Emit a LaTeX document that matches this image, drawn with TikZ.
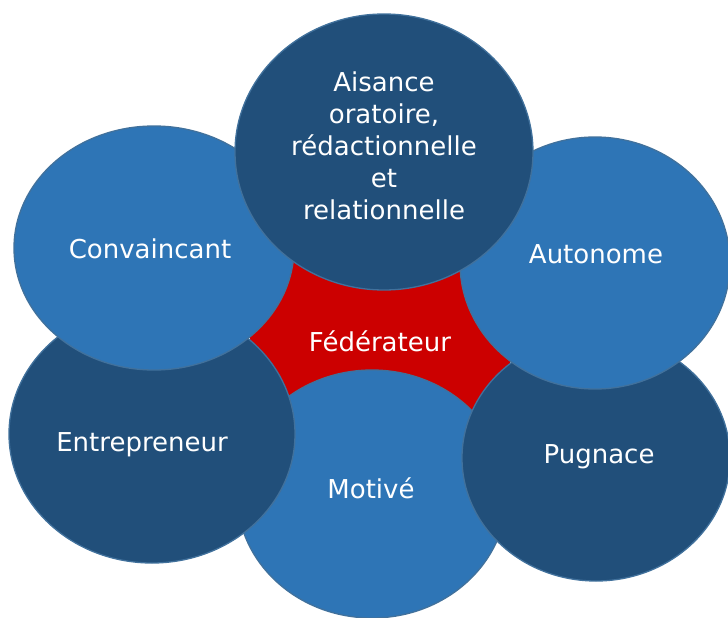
\documentclass[tikz,border=0pt]{standalone}
\usepackage{fontspec}
\setmainfont{DejaVu Sans}
\usetikzlibrary{shapes.geometric}
\definecolor{bleufonce}{RGB}{33,79,122}
\definecolor{bleuclair}{RGB}{46,117,182}
\definecolor{rougecentre}{RGB}{204,0,0}
\definecolor{contour}{RGB}{65,113,156}
\begin{document}
\begin{tikzpicture}[x=1pt, y=-1pt,
    bulle/.style={ellipse, draw=contour, line width=1.3pt, inner sep=0pt},
    fonce/.style={bulle, fill=bleufonce},
    clair/.style={bulle, fill=bleuclair},
    texte/.style={text=white, align=center, inner sep=0pt, font=\fontsize{26}{32}\selectfont}]
  \useasboundingbox (0,0) rectangle (728,618);
  % centre rouge
  \node[circle, fill=rougecentre, minimum size=262pt] (centre) at (381,340) {};
  \node[texte] (fed) at (380,341) {Fédérateur};
  % bulles, de l'arrière vers l'avant
  \node[clair, minimum width=270pt, minimum height=248pt] (moti) at (372,494) {};
  \node[texte] (tmoti) at (371,488) {Motivé};
  \node[fonce, minimum width=286pt, minimum height=258pt] (entr) at (152,434) {};
  \node[texte] (tentr) at (142,445) {Entrepreneur};
  \node[fonce, minimum width=268pt, minimum height=246pt] (pugn) at (596,458) {};
  \node[texte] (tpugn) at (599,457) {Pugnace};
  \node[clair, minimum width=280pt, minimum height=244pt] (conv) at (154,248) {};
  \node[texte] (tconv) at (150,249) {Convaincant};
  \node[clair, minimum width=270pt, minimum height=252pt] (auto) at (595,263) {};
  \node[texte] (tauto) at (596,254) {Autonome};
  \node[fonce, minimum width=298pt, minimum height=276pt] (aisa) at (384,152) {};
  \node[texte] (taisa) at (384,146) {Aisance\\oratoire,\\rédactionnelle\\et\\relationnelle};
\end{tikzpicture}
\end{document}
